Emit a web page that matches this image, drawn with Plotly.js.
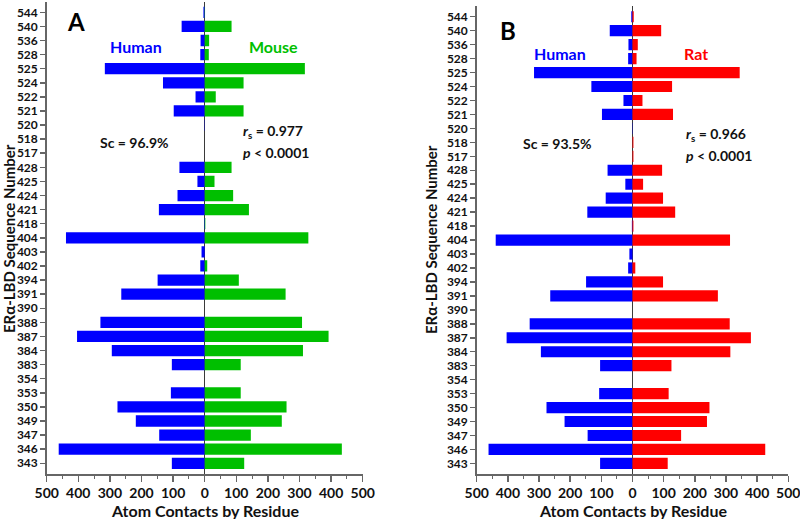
<!DOCTYPE html>
<html>
<head>
<meta charset="utf-8">
<script src="https://cdn.plot.ly/plotly-3.0.1.min.js"></script>
<style>html,body{margin:0;padding:0;background:#fff;}#chart{width:800px;height:519px;}</style>
</head>
<body>
<div id="chart"></div>
<script>
// ERα-LBD residues (top to bottom as drawn)
const residues = ['544','540','536','528','525','524','522','521','520','518','517','428','425','424','421','418','404','403','402','394','391','390','388','387','384','383','354','353','350','349','347','346','343'];
// Atom contacts by residue
const human = [4,73,13,14,316,132,29,98,1,0,0,80,23,86,145,2,439,10,14,149,264,0,330,404,294,104,0,107,276,218,144,462,104];
const mouse = [1,85,14,13,317,123,35,123,0,0,0,85,31,90,140,2,328,0,8,108,256,0,308,392,311,114,0,114,259,244,146,434,125];
const rat   = [4,92,17,13,344,127,32,130,0,3,3,95,34,98,137,3,313,0,9,98,274,0,312,380,314,125,0,116,247,239,156,426,113];
const xTickVals = [-500,-400,-300,-200,-100,0,100,200,300,400,500];
const xTickText = ['500','400','300','200','100','0','100','200','300','400','500'];

const W = 800, H = 519;
const px = x => x / W, py = y => 1 - y / H;
const FONT = 'Lato, "Open Sans", sans-serif';
const neg = a => a.map(v => -v);

const traces = [
  {type:'bar', orientation:'h', y:residues, x:neg(human), name:'Human', marker:{color:'#0000FF'}, width:0.8, xaxis:'x', yaxis:'y'},
  {type:'bar', orientation:'h', y:residues, x:mouse, name:'Mouse', marker:{color:'#00BF00'}, width:0.8, xaxis:'x', yaxis:'y'},
  {type:'bar', orientation:'h', y:residues, x:neg(human), name:'Human', marker:{color:'#0000FF'}, width:0.8, xaxis:'x2', yaxis:'y2'},
  {type:'bar', orientation:'h', y:residues, x:rat, name:'Rat', marker:{color:'#FF0000'}, width:0.8, xaxis:'x2', yaxis:'y2'}
];

function xAxis(domain, anchor){
  return {domain:domain, anchor:anchor, range:[-500,500], tickmode:'array', tickvals:xTickVals, ticktext:xTickText,
    showgrid:false, zeroline:true, zerolinecolor:'#3a3a3a', zerolinewidth:1,
    showline:true, linecolor:'#666', linewidth:1.5, ticks:'outside', ticklen:6, tickcolor:'#666', tickwidth:1.5,
    minor:{tickmode:'linear', tick0:-500, dtick:50, ticks:'outside', ticklen:3, tickcolor:'#666', tickwidth:1},
    ticklabeloverflow:'allow',
    tickfont:{family:FONT, size:14, color:'#111', weight:'bold'}, fixedrange:true};
}
function yAxis(domain, anchor){
  return {domain:domain, anchor:anchor, type:'category', categoryorder:'array', categoryarray:residues,
    tickmode:'array', tickvals:residues, ticktext:residues,
    range:[32.76,-0.76], showgrid:false, zeroline:false, showline:true, linecolor:'#666', linewidth:1.5,
    ticks:'outside', ticklen:5, tickcolor:'#666', tickwidth:1.5, ticklabeloverflow:'allow',
    tickfont:{family:FONT, size:12, color:'#111', weight:'bold'}, fixedrange:true};
}

function ann(text, x, y, size, color, opts){
  return Object.assign({text:text, x:px(x), y:py(y), xref:'paper', yref:'paper', showarrow:false,
    xanchor:'center', yanchor:'middle', font:{family:FONT, size:size, color:color, weight:'bold'}}, opts||{});
}

const annotations = [
  ann('A', 76, 22, 24, '#000'),
  ann('Human', 135.5, 46.5, 16, '#0000FF'),
  ann('Mouse', 273, 46, 16, '#00BF00'),
  ann('Sc = 96.9%', 134, 142, 14, '#111'),
  ann('<i>r</i><sub>s</sub> = 0.977', 241, 131, 14, '#111', {xanchor:'left'}),
  ann('<i>p</i> &lt; 0.0001', 241, 152, 14, '#111', {xanchor:'left'}),
  ann('ERα-LBD Sequence Number', 9, 239, 15, '#111', {textangle:-90}),
  ann('Atom Contacts by Residue', 205, 510, 16, '#111'),
  ann('B', 507.5, 30.5, 24, '#000'),
  ann('Human', 559.5, 53.3, 16, '#0000FF'),
  ann('Rat', 695.5, 53, 16, '#FF0000'),
  ann('Sc = 93.5%', 557, 143.3, 14, '#111'),
  ann('<i>r</i><sub>s</sub> = 0.966', 683.5, 134.7, 14, '#111', {xanchor:'left'}),
  ann('<i>p</i> &lt; 0.0001', 683.5, 155, 14, '#111', {xanchor:'left'}),
  ann('ERα-LBD Sequence Number', 431, 239, 15, '#111', {textangle:-90}),
  ann('Atom Contacts by Residue', 633, 510, 16, '#111')
];

const layout = {
  width:W, height:H, margin:{l:0, r:0, t:0, b:0}, paper_bgcolor:'#fff', plot_bgcolor:'#fff',
  barmode:'relative', showlegend:false, font:{family:FONT},
  xaxis: xAxis([46.7/W, 362.7/W], 'y'),
  yaxis: yAxis([py(474), py(1.6)], 'x'),
  xaxis2: xAxis([476.7/W, 788.3/W], 'y2'),
  yaxis2: yAxis([py(474), py(6.1)], 'x2'),
  annotations: annotations
};

Plotly.newPlot('chart', traces, layout, {displayModeBar:false, staticPlot:true});
</script>
</body>
</html>
